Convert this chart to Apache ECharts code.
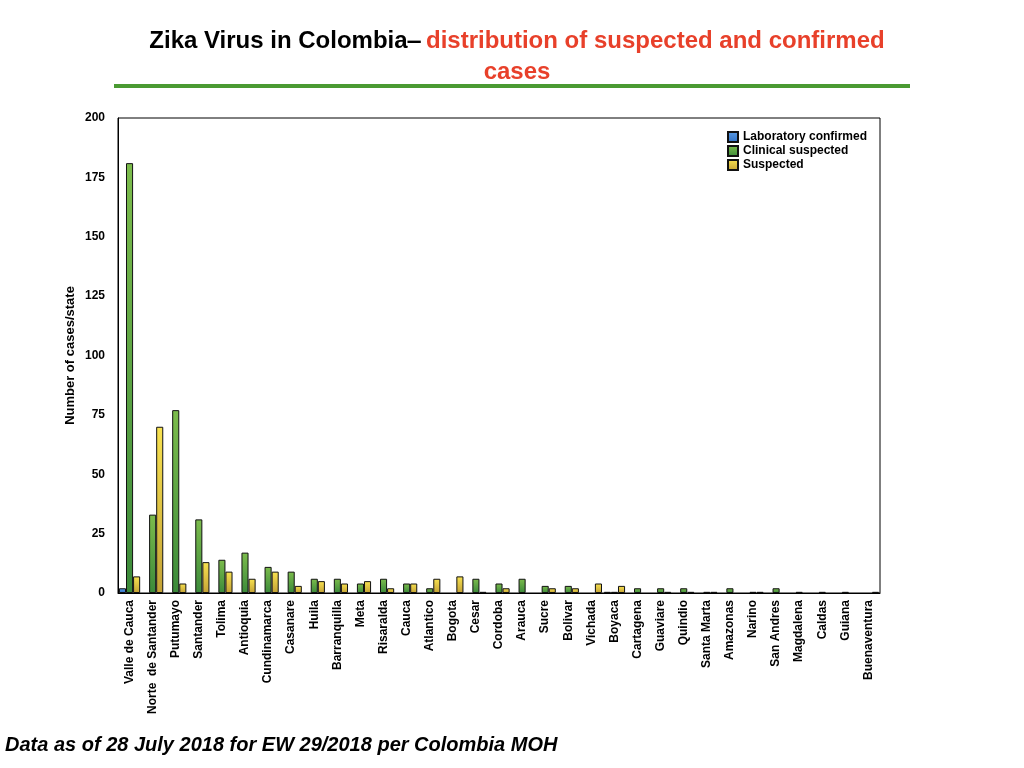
<!DOCTYPE html>
<html>
<head>
<meta charset="utf-8">
<script src="https://cdn.jsdelivr.net/npm/echarts@6/dist/echarts.min.js"></script>
<style>
  html, body { margin: 0; padding: 0; background: #fff; }
  #chart { width: 1024px; height: 768px; }
</style>
</head>
<body>
<div id="chart"></div>
<script>
var states = ['Valle de Cauca', 'Norte  de Santander', 'Putumayo', 'Santander', 'Tolima', 'Antioquia',
  'Cundinamarca', 'Casanare', 'Huila', 'Barranquilla', 'Meta', 'Risaralda', 'Cauca', 'Atlantico',
  'Bogota', 'Cesar', 'Cordoba', 'Arauca', 'Sucre', 'Bolivar', 'Vichada', 'Boyaca', 'Cartagena',
  'Guaviare', 'Quindio', 'Santa Marta', 'Amazonas', 'Narino', 'San Andres', 'Magdalena', 'Caldas',
  'Guiana', 'Buenaventura'];
var labConfirmed = [2, 0, 0, 0, 0, 0, 0, 0, 0, 0, 0, 0, 0, 0, 0, 0, 0, 0, 0, 0, 0, 0.5, 0,
  0, 0, 0, 0, 0, 0, 0, 0, 0, 0];
var clinicalSuspected = [181, 33, 77, 31, 14, 17, 11, 9, 6, 6, 4, 6, 4, 2, 0, 6, 4, 6, 3, 3, 0, 0.5, 2,
  2, 2, 0.5, 2, 0.5, 2, 0.5, 0.5, 0.5, 0];
var suspected = [7, 70, 4, 13, 9, 6, 9, 3, 5, 4, 5, 2, 4, 6, 7, 0.5, 2, 0, 2, 2, 4, 3, 0,
  0.5, 0.5, 0.5, 0, 0.5, 0, 0, 0, 0, 0.5];
var yTicks = [0, 25, 50, 75, 100, 125, 150, 175, 200];

function noZero(arr) {
  return arr.map(function (v) { return v === 0 ? '-' : v; });
}
function grad(top, bottom) {
  return new echarts.graphic.LinearGradient(0, 0, 0, 1, [
    { offset: 0, color: top },
    { offset: 1, color: bottom }
  ]);
}

var font = 'Liberation Sans, Arial, Helvetica, sans-serif';
var myChart = echarts.init(document.getElementById('chart'));
var option = {
  backgroundColor: '#fff',
  animation: false,
  title: {
    text: '{b|Zika Virus in Colombia}{b|‒} {r|distribution of suspected and confirmed}\n{r|cases}',
    left: 512,
    top: 21,
    textAlign: 'center',
    textStyle: {
      fontFamily: font,
      lineHeight: 31,
      rich: {
        b: { color: '#000', fontSize: 24, fontWeight: 'bold', fontFamily: font, lineHeight: 31 },
        r: { color: '#e8402a', fontSize: 24, fontWeight: 'bold', fontFamily: font, lineHeight: 31 }
      }
    }
  },
  graphic: [
    {
      type: 'line',
      shape: { x1: 114, y1: 86, x2: 910, y2: 86 },
      style: { stroke: '#4a9a32', lineWidth: 4 }
    },
    {
      type: 'text',
      left: 5,
      top: 735,
      style: {
        text: 'Data as of 28 July 2018 for EW 29/2018 per Colombia MOH',
        fontFamily: font,
        fontSize: 20,
        fontWeight: 'bold',
        fontStyle: 'italic',
        fill: '#000'
      }
    }
  ],
  legend: {
    orient: 'vertical',
    left: 722,
    top: 125,
    itemWidth: 10,
    itemHeight: 10,
    itemGap: 0,
    icon: 'rect',
    textStyle: { fontFamily: font, fontSize: 12, fontWeight: 'bold', color: '#000', lineHeight: 14 }
  },
  grid: {
    left: 118,
    top: 118,
    right: 144,
    bottom: 175,
    show: true,
    borderColor: '#000',
    borderWidth: 1,
    containLabel: false
  },
  xAxis: {
    type: 'category',
    data: states,
    axisLine: { lineStyle: { color: '#000', width: 1 } },
    axisTick: { show: false },
    axisLabel: {
      interval: 0,
      rotate: 90,
      margin: 7,
      color: '#000',
      fontFamily: font,
      fontSize: 12,
      fontWeight: 'bold'
    }
  },
  yAxis: {
    type: 'value',
    min: 0,
    max: 200,
    interval: 25,
    name: 'Number of cases/state',
    nameLocation: 'middle',
    nameRotate: 90,
    nameGap: 41,
    nameMoveOverlap: false,
    nameTextStyle: { fontFamily: font, fontSize: 13, fontWeight: 'bold', color: '#000' },
    axisLine: { show: true, lineStyle: { color: '#000', width: 1 } },
    axisTick: { show: false },
    splitLine: { show: false },
    axisLabel: {
      margin: 13,
      color: '#000',
      fontFamily: font,
      fontSize: 12,
      fontWeight: 'bold',
      formatter: function (v) { return yTicks.indexOf(v) >= 0 ? v : ''; }
    }
  },
  series: [
    {
      name: 'Laboratory confirmed',
      type: 'bar',
      data: noZero(labConfirmed),
      barGap: '0%',
      barCategoryGap: '8%',
      itemStyle: { color: grad('#5b9be3', '#2f6fc4'), borderColor: '#111', borderWidth: 1 }
    },
    {
      name: 'Clinical suspected',
      type: 'bar',
      data: noZero(clinicalSuspected),
      itemStyle: { color: grad('#7cbc4c', '#3b8a3a'), borderColor: '#111', borderWidth: 1 }
    },
    {
      name: 'Suspected',
      type: 'bar',
      data: noZero(suspected),
      itemStyle: { color: grad('#f8e250', '#c4a236'), borderColor: '#111', borderWidth: 1 }
    }
  ]
};
myChart.setOption(option);
</script>
</body>
</html>
